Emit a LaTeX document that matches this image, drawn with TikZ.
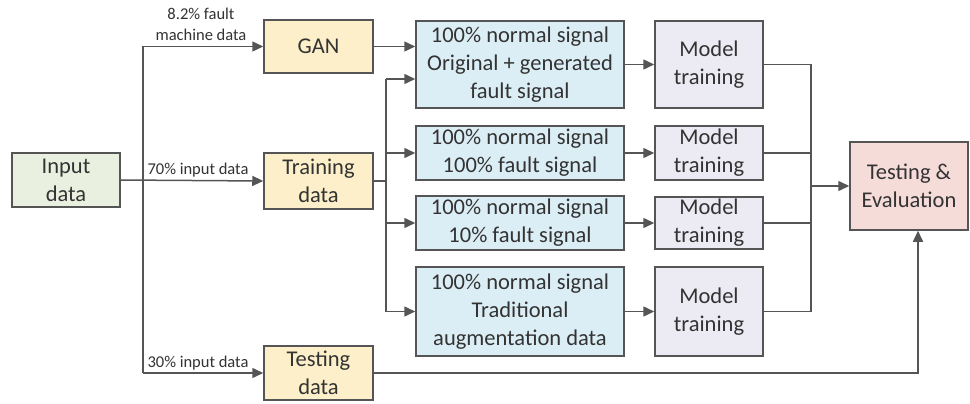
\documentclass[tikz,border=0pt]{standalone}
\usepackage{fontspec}
\setmainfont{Carlito}
\usetikzlibrary{arrows.meta}
\definecolor{lc}{HTML}{555555}
\definecolor{gfill}{HTML}{EAF0E0}
\definecolor{yfill}{HTML}{FCEFC9}
\definecolor{bfill}{HTML}{DCEEF5}
\definecolor{pfill}{HTML}{ECEBF3}
\definecolor{rfill}{HTML}{F6DCD9}
\definecolor{tc}{HTML}{333333}
\tikzset{
  box/.style={draw=lc, line width=1.5pt, align=center, inner sep=0pt,
    font=\fontsize{22.5}{28}\selectfont, text=tc},
  lbl/.style={font=\fontsize{16.5}{21}\selectfont, text=tc, align=center, inner sep=0pt},
  ln/.style={draw=lc, line width=1.5pt},
  arr/.style={ln, -{Triangle[length=11pt,width=10pt]}}
}
\begin{document}
\begin{tikzpicture}[x=1pt,y=-1pt]
\useasboundingbox[fill=white] (0,0) rectangle (970,404);
% nodes
\node[box, fill=gfill, minimum width=108, minimum height=54] (in) at (66,180) {Input\\data};
\node[box, fill=yfill, minimum width=109, minimum height=53] (gan) at (318.5,46.5) {GAN};
\node[box, fill=yfill, minimum width=109, minimum height=56] (tr) at (318.5,181) {Training\\data};
\node[box, fill=yfill, minimum width=109, minimum height=54] (ts) at (318.5,373) {Testing\\data};
\node[box, fill=bfill, minimum width=208, minimum height=87] (b1) at (520,64.5) {100\% normal signal\\Original + generated\\fault signal};
\node[box, fill=bfill, minimum width=208, minimum height=54] (b2) at (520,153) {100\% normal signal\\100\% fault signal};
\node[box, fill=bfill, minimum width=208, minimum height=54] (b3) at (520,223) {100\% normal signal\\10\% fault signal};
\node[box, fill=bfill, minimum width=208, minimum height=89] (b4) at (520,311.5) {100\% normal signal\\Traditional\\augmentation data};
\node[box, fill=pfill, minimum width=108, minimum height=87] (m1) at (709,64.5) {Model\\training};
\node[box, fill=pfill, minimum width=108, minimum height=54] (m2) at (709,153) {Model\\training};
\node[box, fill=pfill, minimum width=108, minimum height=52] (m3) at (709,223) {Model\\training};
\node[box, fill=pfill, minimum width=108, minimum height=89] (m4) at (709,311.5) {Model\\training};
\node[box, fill=rfill, minimum width=118, minimum height=88] (te) at (909,186) {Testing \&\\Evaluation};
% labels
\node[lbl] (l1) at (201,24) {8.2\% fault\\machine data};
\node[lbl] (l2) at (198,170) {70\% input data};
\node[lbl] (l3) at (198,363) {30\% input data};
% coordinates
\coordinate (s1) at (143,46.5);
\coordinate (s2) at (143,373);
\coordinate (t1) at (386,79);
\coordinate (t2) at (386,181);
\coordinate (t4) at (386,311.5);
\coordinate (u1) at (811,64.5);
\coordinate (u4) at (811,311.5);
\coordinate (u0) at (811,186);
\coordinate (v1) at (918,373);
% connectors
\draw[arr] (in.east) -- (tr.west);
\draw[ln] (s1) -- (s2);
\draw[arr] (s1) -- (gan.west);
\draw[arr] (s2) -- (ts.west);
\draw[arr] (gan.east) -- (gan.east -| b1.west);
\draw[ln] (tr.east) -- (t2);
\draw[ln] (t1) -- (t4);
\draw[arr] (t1) -- (t1 -| b1.west);
\draw[arr] (t2 |- b2.west) -- (b2.west);
\draw[arr] (t2 |- b3.west) -- (b3.west);
\draw[arr] (t4) -- (b4.west);
\draw[arr] (b1.east) -- (m1.west);
\draw[arr] (b2.east) -- (m2.west);
\draw[arr] (b3.east) -- (m3.west);
\draw[arr] (b4.east) -- (m4.west);
\draw[ln] (m1.east) -- (u1) -- (u4) -- (m4.east);
\draw[ln] (m2.east) -- (m2.east -| u1);
\draw[ln] (m3.east) -- (m3.east -| u1);
\draw[arr] (u0) -- (te.west);
\draw[arr] (ts.east) -- (v1) -- (v1 |- te.south);
\end{tikzpicture}
\end{document}
